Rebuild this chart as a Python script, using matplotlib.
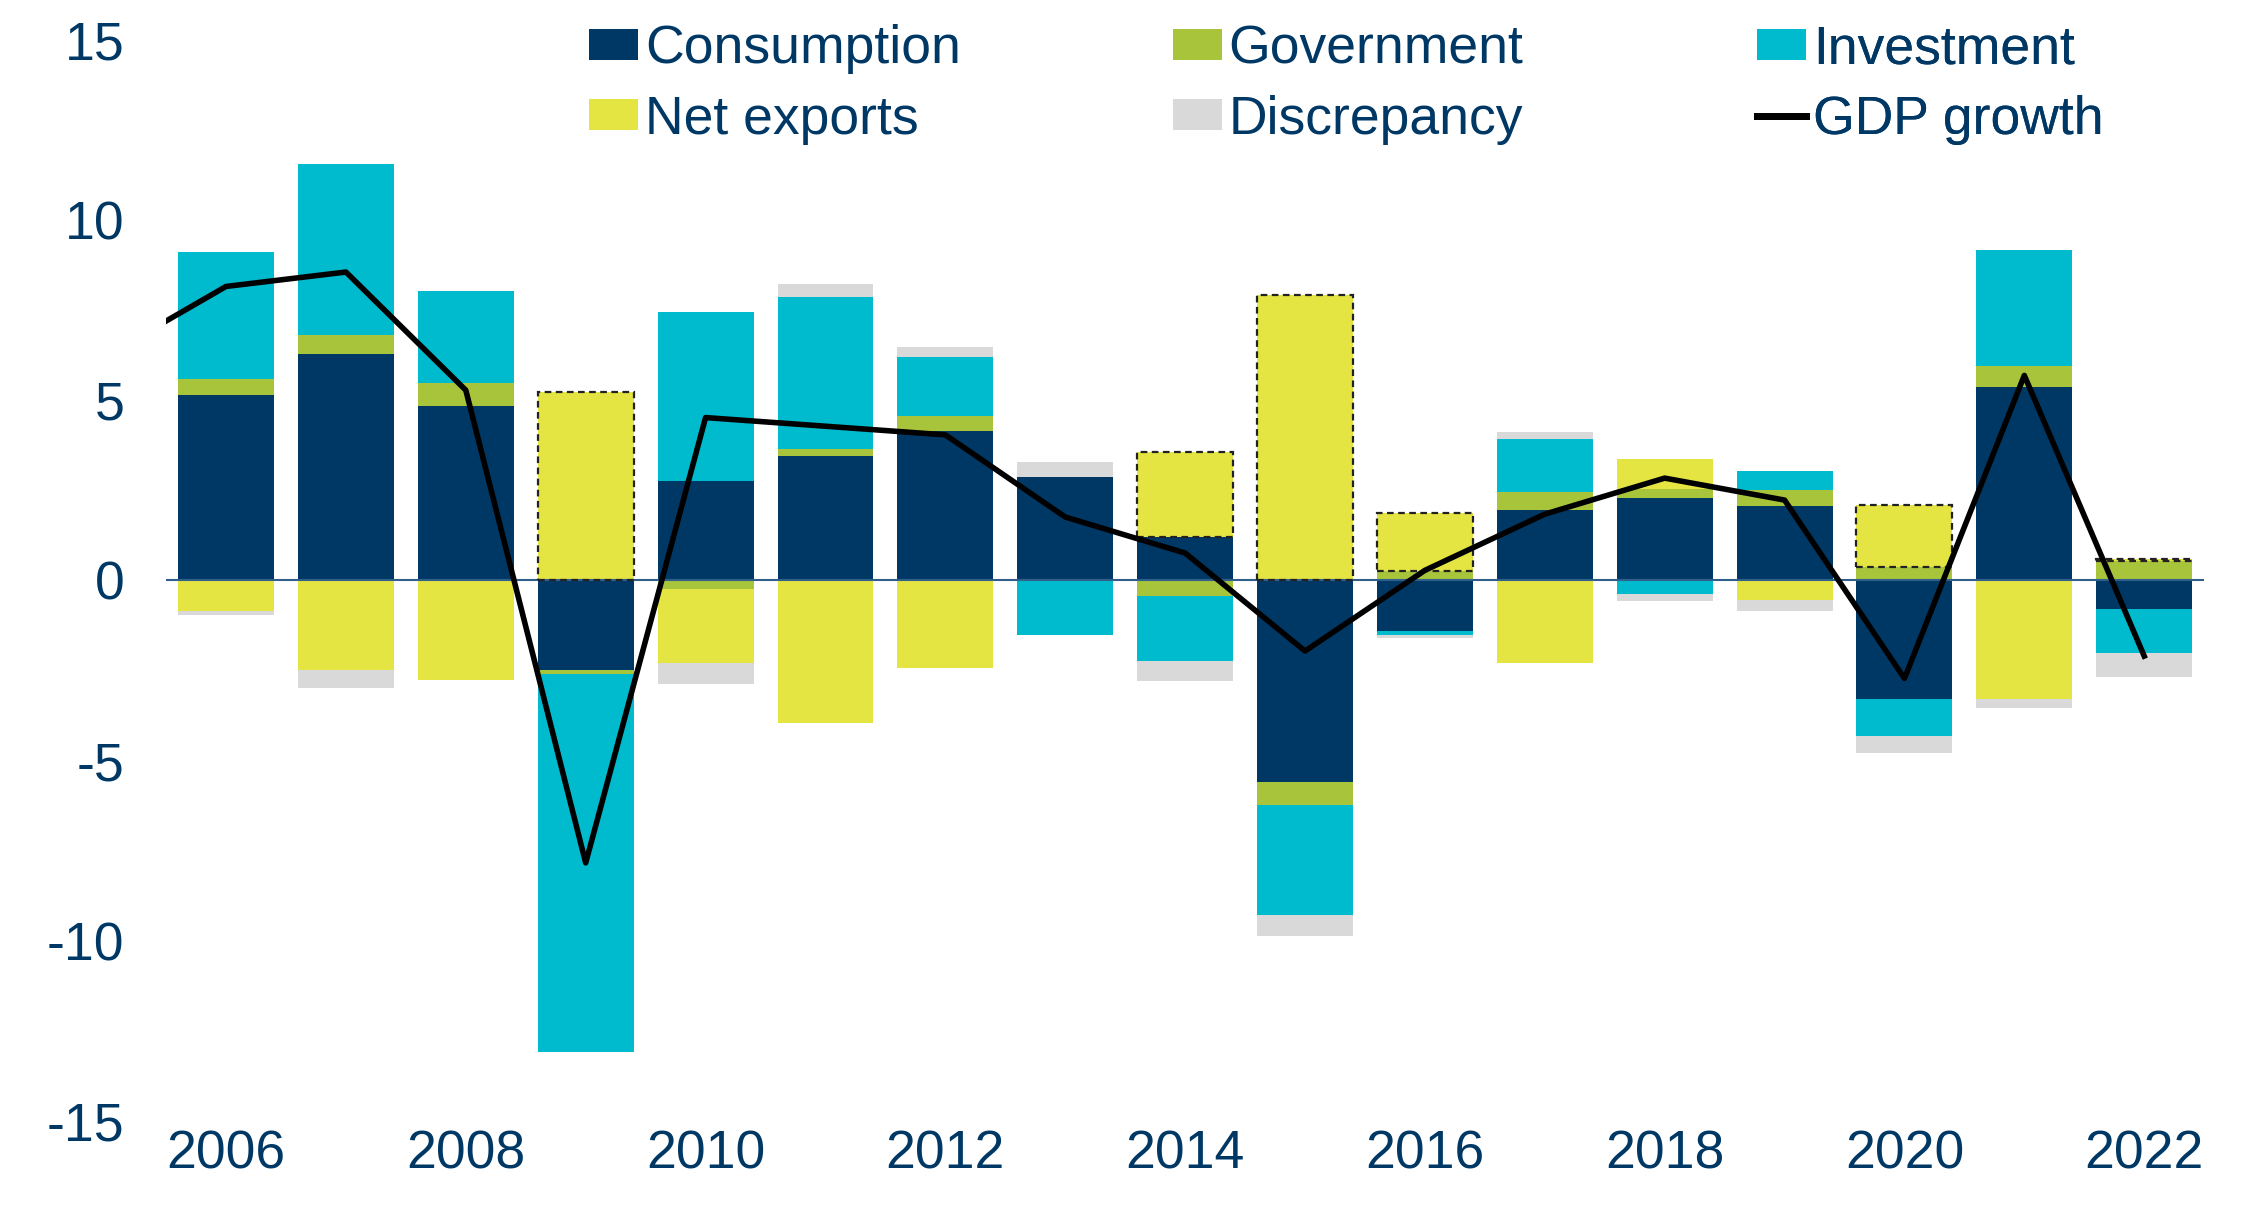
import matplotlib.pyplot as plt
import numpy as np

plt.rcParams['font.family'] = ['Liberation Sans', 'DejaVu Sans']
plt.rcParams['axes.unicode_minus'] = False

years = list(range(2006, 2023))
consumption = [5.16, 6.28, 4.84, -2.48, 2.76, 3.44, 4.16, 2.88, 1.20, -5.60, -1.40, 1.96, 2.29, 2.07, -3.30, 5.36, -0.78]
government = [0.44, 0.52, 0.64, -0.12, -0.24, 0.20, 0.40, 0.00, -0.44, -0.64, 0.26, 0.49, 0.24, 0.43, 0.36, 0.59, 0.55]
investment = [3.52, 4.76, 2.56, -10.48, 4.68, 4.24, 1.64, -1.52, -1.80, -3.04, -0.12, 1.48, -0.39, 0.55, -1.01, 3.23, -1.24]
net_exports = [-0.84, -2.48, -2.76, 5.24, -2.04, -3.96, -2.44, 0.00, 2.36, 7.92, 1.61, -2.28, 0.85, -0.54, 1.73, -3.30, 0.05]
discrepancy = [-0.12, -0.52, 0.00, 0.00, -0.60, 0.36, 0.28, 0.40, -0.56, -0.60, -0.08, 0.19, -0.19, -0.30, -0.48, -0.25, -0.67]

# line starts one year earlier, clipped at the left edge
gdp_years = list(range(2005, 2023))
gdp_growth = [6.24, 8.16, 8.56, 5.28, -7.84, 4.52, 4.28, 4.04, 1.76, 0.76, -1.96, 0.28, 1.84, 2.84, 2.23, -2.72, 5.69, -2.10]

# years where the net exports block gets a dotted outline
outlined = [2009, 2014, 2015, 2016, 2020, 2022]

navy = '#003865'
colors = {'Consumption': '#003865', 'Government': '#A8C43A', 'Investment': '#00BACD',
          'Net exports': '#E4E542', 'Discrepancy': '#D9D9D9'}
series = [('Consumption', consumption), ('Government', government),
          ('Investment', investment), ('Net exports', net_exports),
          ('Discrepancy', discrepancy)]

fig = plt.figure(figsize=(22.63, 12.13), dpi=100)
ax = fig.add_axes([0.0734, 0.076, 0.9006, 0.891])

x = np.array(years)
pos = np.zeros(len(years))
neg = np.zeros(len(years))
w = 0.8
handles = {}
for name, vals in series:
    v = np.array(vals)
    bottom = np.where(v >= 0, pos, neg)
    b = ax.bar(x, v, w, bottom=bottom, color=colors[name], linewidth=0, label=name, zorder=2)
    handles[name] = b
    if name == 'Net exports':
        for i, yr in enumerate(years):
            if yr in outlined:
                ax.bar(yr, v[i], w, bottom=bottom[i], fill=False, edgecolor='#222222',
                       linewidth=1.6, linestyle=(0, (3, 2)), zorder=3)
    pos = pos + np.where(v >= 0, v, 0)
    neg = neg + np.where(v < 0, v, 0)

ax.axhline(0, color='#2F5F8A', lw=1.5, zorder=2.5)
line, = ax.plot(gdp_years, gdp_growth, color='black', lw=4, zorder=4, label='GDP growth')

ax.set_xlim(2005.5, 2022.5)
ax.set_ylim(-15, 15)
ax.set_yticks([-15, -10, -5, 0, 5, 10, 15])
ax.set_xticks(list(range(2006, 2023, 2)))
ax.tick_params(length=0, labelsize=38.5, colors=navy)
ax.tick_params(axis='y', pad=30)
ax.tick_params(axis='x', pad=6)
for s in ax.spines.values():
    s.set_visible(False)

# legend as three single-column blocks so columns sit at fixed positions
cols = [(['Consumption', 'Net exports'], 0.2076),
        (['Government', 'Discrepancy'], 0.4941),
        (['Investment', 'GDP growth'], 0.7807)]
for names, xa in cols:
    hs = [line if n == 'GDP growth' else handles[n] for n in names]
    leg = ax.legend(hs, names, loc='upper left', bbox_to_anchor=(xa, 1.0145),
                    frameon=False, fontsize=38.5, handlelength=0.92, handleheight=0.53,
                    handletextpad=0.12, labelspacing=0.38,
                    borderaxespad=0, borderpad=0)
    for t in leg.get_texts():
        t.set_color(navy)
    for l in leg.get_lines():
        l.set_linewidth(5)
    ax.add_artist(leg)

fig.savefig('out.png', dpi=100)
